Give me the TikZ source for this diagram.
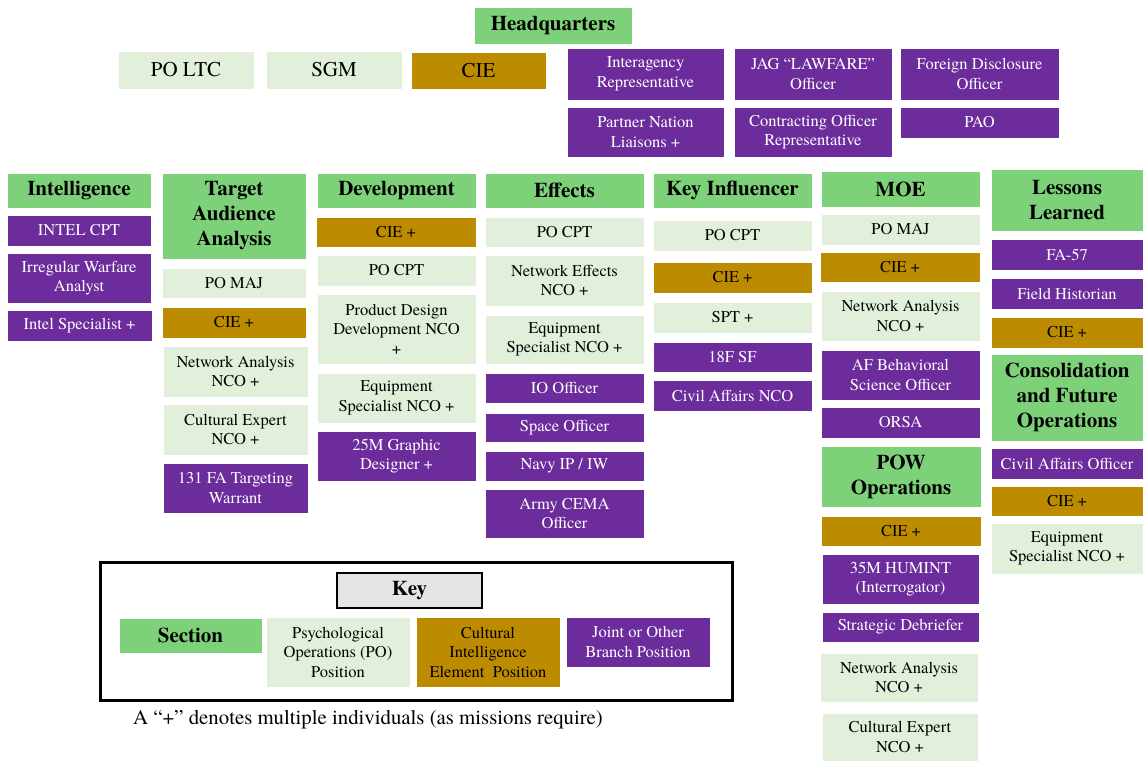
\documentclass[tikz,border=0pt]{standalone}
\usepackage{fontspec}
\setmainfont{TeX Gyre Termes}
\definecolor{secGreen}{RGB}{125,209,121}
\definecolor{poGreen}{RGB}{226,239,218}
\definecolor{cieGold}{RGB}{189,139,0}
\definecolor{jointPurple}{RGB}{108,44,156}
\begin{document}
\begin{tikzpicture}[
    x=1pt, y=-1pt,
    box/.style={draw=white, line width=0.6pt, inner sep=1pt, align=center,
        font=\fontsize{16.5}{19.5}\selectfont},
    wh/.style 2 args={minimum width=#1pt, minimum height=#2pt},
    section/.style={box, fill=secGreen, font=\bfseries\fontsize{21}{25}\selectfont},
    po/.style={box, fill=poGreen},
    cie/.style={box, fill=cieGold},
    joint/.style={box, fill=jointPurple, text=white},
    big/.style={font=\fontsize{21}{25}\selectfont}
]
\useasboundingbox (0,0) rectangle (1143,761);

% Headquarters
\node[section, wh={158}{37}] (hq) at (553,25.5) {Headquarters};
\node[po, big, wh={136}{38}] (hqLtc) at (186,70) {PO LTC};
\node[po, big, wh={136}{38}] (hqSgm) at (334,70) {SGM};
\node[cie, big, wh={135}{37}] (hqCie) at (478.5,70.5) {CIE};
\node[joint, wh={157}{52}] (hqInter) at (645.5,74) {Interagency\\Representative};
\node[joint, wh={158}{52}] (hqJag) at (813,74) {JAG ``LAWFARE''\\Officer};
\node[joint, wh={159}{52}] (hqFdo) at (979.5,74) {Foreign Disclosure\\Officer};
\node[joint, wh={157}{50}] (hqPartner) at (645.5,132) {Partner Nation\\Liaisons +};
\node[joint, wh={158}{50}] (hqCor) at (813,132) {Contracting Officer\\Representative};
\node[joint, wh={159}{31}] (hqPao) at (979.5,122.5) {PAO};

% Intelligence
\node[section, wh={144}{35}] (intel) at (79,190.5) {Intelligence};
\node[joint, wh={144}{31}] (intelCpt) at (79,230.5) {INTEL CPT};
\node[joint, wh={144}{50}] (intelIw) at (79,278) {Irregular Warfare\\Analyst};
\node[joint, wh={145}{31}] (intelSpec) at (79.5,325.5) {Intel Specialist +};

% Target Audience Analysis
\node[section, wh={144}{86}] (taa) at (234,216) {Target\\Audience\\Analysis};
\node[po, wh={144}{30}] (taaMaj) at (234,283) {PO MAJ};
\node[cie, wh={144}{31}] (taaCie) at (234,322.5) {CIE +};
\node[po, wh={145}{51}] (taaNet) at (235.5,371.5) {Network Analysis\\NCO +};
\node[po, wh={145}{51}] (taaCult) at (235.5,429.5) {Cultural Expert\\NCO +};
\node[joint, wh={145}{50}] (taaWarrant) at (235.5,488) {131 FA Targeting\\Warrant};

% Development
\node[section, wh={159}{35}] (dev) at (396.5,190.5) {Development};
\node[cie, wh={160}{30}] (devCie) at (396,232) {CIE +};
\node[po, wh={159}{31}] (devCpt) at (396.5,270.5) {PO CPT};
\node[po, wh={159}{70}] (devDesign) at (396.5,329) {Product Design\\Development NCO\\+};
\node[po, wh={159}{50}] (devEquip) at (396.5,398) {Equipment\\Specialist NCO +};
\node[joint, wh={159}{50}] (devGraphic) at (396.5,456) {25M Graphic\\Designer +};

% Effects
\node[section, wh={159}{35}] (eff) at (564.5,190.5) {Effects};
\node[po, wh={159}{30}] (effCpt) at (564.5,232) {PO CPT};
\node[po, wh={159}{51}] (effNet) at (564.5,280.5) {Network Effects\\NCO +};
\node[po, wh={159}{49}] (effEquip) at (564.5,339.5) {Equipment\\Specialist NCO +};
\node[joint, wh={159}{30}] (effIo) at (564.5,388) {IO Officer};
\node[joint, wh={159}{29}] (effSpace) at (564.5,427.5) {Space Officer};
\node[joint, wh={159}{30}] (effNavy) at (564.5,466) {Navy IP / IW};
\node[joint, wh={159}{49}] (effCema) at (564.5,513.5) {Army CEMA\\Officer};

% Key Influencer
\node[section, wh={159}{35}] (ki) at (732.5,190.5) {Key Influencer};
\node[po, wh={159}{31}] (kiCpt) at (732.5,235.5) {PO CPT};
\node[cie, wh={159}{31}] (kiCie) at (732.5,277.5) {CIE +};
\node[po, wh={159}{31}] (kiSpt) at (732.5,317.5) {SPT +};
\node[joint, wh={159}{30}] (kiSf) at (732.5,357) {18F SF};
\node[joint, wh={159}{31}] (kiCa) at (732.5,395.5) {Civil Affairs NCO};

% MOE
\node[section, wh={159}{36}] (moe) at (900.5,189) {MOE};
\node[po, wh={159}{31}] (moeMaj) at (900.5,229.5) {PO MAJ};
\node[cie, wh={160}{30}] (moeCie) at (900,267) {CIE +};
\node[po, wh={159}{50}] (moeNet) at (900.5,316) {Network Analysis\\NCO +};
\node[joint, wh={159}{50}] (moeAf) at (900.5,375) {AF Behavioral\\Science Officer};
\node[joint, wh={159}{31}] (moeOrsa) at (900.5,422.5) {ORSA};

% POW Operations
\node[section, wh={160}{61}] (pow) at (901,476.5) {POW\\Operations};
\node[cie, wh={160}{30}] (powCie) at (901,531) {CIE +};
\node[joint, wh={157}{50}] (powHumint) at (900.5,579) {35M HUMINT\\(Interrogator)};
\node[joint, wh={157}{30}] (powDebrief) at (900.5,627) {Strategic Debriefer};
\node[po, wh={158}{49}] (powNet) at (899,677.5) {Network Analysis\\NCO +};
\node[po, wh={156}{48}] (powCult) at (900,737) {Cultural Expert\\NCO +};

% Lessons Learned
\node[section, wh={152}{62}] (ll) at (1067,200) {Lessons\\Learned};
\node[joint, wh={152}{31}] (llFa) at (1067,254.5) {FA-57};
\node[joint, wh={152}{31}] (llHist) at (1067,293.5) {Field Historian};
\node[cie, wh={152}{31}] (llCie) at (1067,332.5) {CIE +};

% Consolidation and Future Operations
\node[section, wh={152}{87}] (cfo) at (1067,397.5) {Consolidation\\and Future\\Operations};
\node[joint, wh={152}{31}] (cfoCa) at (1067,463.5) {Civil Affairs Officer};
\node[cie, wh={152}{30}] (cfoCie) at (1067,501) {CIE +};
\node[po, wh={152}{51}] (cfoEquip) at (1067,548.5) {Equipment\\Specialist NCO +};

% Key
\draw[line width=3pt] (100,562) rectangle (732,700);
\node[box, draw=black, line width=2pt, fill=black!10, wh={145}{35},
    font=\bfseries\fontsize{21}{25}\selectfont] (key) at (409.5,590.5) {Key};
\node[section, wh={143}{35}] (keySec) at (190.5,635.5) {Section};
\node[po, wh={144}{70}] (keyPo) at (338,652) {Psychological\\Operations (PO)\\Position};
\node[cie, wh={144}{70}] (keyCie) at (488,652) {Cultural\\Intelligence\\Element~ Position};
\node[joint, wh={144}{50}] (keyJoint) at (638,642) {Joint or Other\\Branch Position};
\node[anchor=west, inner sep=0pt, font=\fontsize{20.8}{24}\selectfont] (note) at (133,720)
    {A ``+'' denotes multiple individuals (as missions require)};

\end{tikzpicture}
\end{document}
